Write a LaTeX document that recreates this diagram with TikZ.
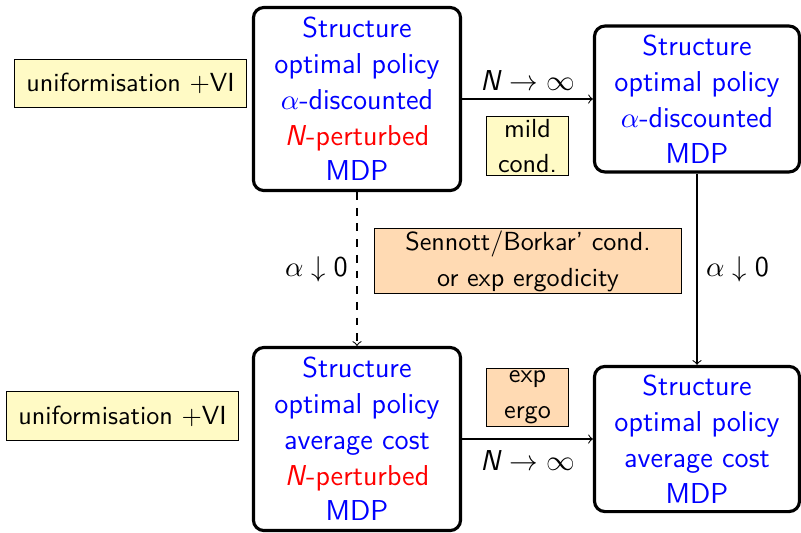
\documentclass[tikz,border=0pt]{standalone}
\usepackage{tikz}

\definecolor{condyellow}{RGB}{255,250,197}
\definecolor{condorange}{RGB}{255,218,179}

\newcommand{\sfN}{\textsf{\textit{N}}}

\begin{document}
\begin{tikzpicture}[x=0.3824pt, y=-0.3824pt,
  font=\sffamily\fontsize{11}{13.7}\selectfont,
  mdp/.style={draw, very thick, rounded corners=4pt, align=center,
    text=blue, inner sep=0pt},
  cond/.style={draw, line width=0.4pt, align=center, inner sep=0pt,
    font=\sffamily\fontsize{10}{13.7}\selectfont},
  arr/.style={->, line width=0.4pt}]

  \useasboundingbox (0,0) rectangle (801,532);

  % four MDP boxes
  \node[mdp, minimum width=79.2pt, minimum height=70pt] (b1) at (357,99)
    {Structure\\optimal policy\\$\alpha$-discounted\\\textcolor{red}{\textit{N}-perturbed}\\MDP};
  \node[mdp, minimum width=78.4pt, minimum height=55.8pt] (b2) at (697,99)
    {Structure\\optimal policy\\$\alpha$-discounted\\MDP};
  \node[mdp, minimum width=79.2pt, minimum height=70pt] (b3) at (357,439)
    {Structure\\optimal policy\\average cost\\\textcolor{red}{\textit{N}-perturbed}\\MDP};
  \node[mdp, minimum width=78.4pt, minimum height=55.5pt] (b4) at (697,439)
    {Structure\\optimal policy\\average cost\\MDP};

  % condition boxes
  \node[cond, fill=condyellow, minimum width=88.7pt, minimum height=18.4pt] (u1) at (130.5,83.5)
    {uniformisation $+$VI};
  \node[cond, fill=condyellow, minimum width=88.7pt, minimum height=18.4pt] (u2) at (122.5,416)
    {uniformisation $+$VI};
  \node[cond, fill=condyellow, minimum width=31pt, minimum height=22.6pt] (mild) at (527.5,146)
    {mild\\cond.};
  \node[cond, fill=condorange, minimum width=31pt, minimum height=22.4pt] (expergo) at (527.5,397.5)
    {exp\\ergo};
  \node[cond, fill=condorange, minimum width=117.4pt, minimum height=24.9pt] (senn) at (528,261)
    {Sennott/Borkar' cond.\\or exp ergodicity};

  % limits between the boxes
  \draw[arr] (b1) -- (b2)
    node[midway, anchor=base, yshift=3.44pt] {$\sfN\rightarrow\infty$};
  \draw[arr] (b3) -- (b4)
    node[midway, anchor=base, yshift=-11.85pt] {$\sfN\rightarrow\infty$};
  \draw[arr, dashed] (b1) -- (b3)
    node[midway, left] {$\alpha\downarrow\textsf{0}$};
  \draw[arr] (b2) -- (b4)
    node[midway, right] {$\alpha\downarrow\textsf{0}$};
\end{tikzpicture}
\end{document}
